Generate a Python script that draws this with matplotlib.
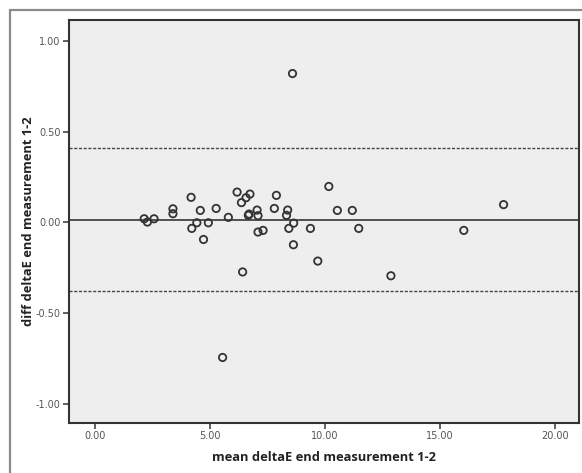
import matplotlib
matplotlib.use("Agg")
import matplotlib.pyplot as plt
from matplotlib.patches import Rectangle

# mean of the two measurements and their difference
mean_delta = [2.14, 2.28, 2.57, 3.39, 3.39, 4.18, 4.21, 4.43, 4.58, 4.72,
              4.93, 5.27, 5.55, 5.80, 6.18, 6.37, 6.42, 6.57, 6.67, 6.70,
              6.74, 7.05, 7.09, 7.09, 7.31, 7.80, 7.89, 8.33, 8.38, 8.43,
              8.59, 8.63, 8.64, 9.37, 9.69, 10.17, 10.54, 11.19, 11.47, 12.87,
              16.04, 17.77]
diff_delta = [0.020, 0.002, 0.020, 0.075, 0.048, 0.138, -0.033, -0.002, 0.066, -0.094,
              -0.002, 0.077, -0.744, 0.028, 0.167, 0.109, -0.273, 0.136, 0.039, 0.046,
              0.156, 0.068, 0.037, -0.053, -0.044, 0.077, 0.149, 0.039, 0.068, -0.033,
              0.820, -0.123, -0.004, -0.033, -0.213, 0.198, 0.066, 0.066, -0.033, -0.294,
              -0.044, 0.098]

mean_diff = 0.013
loa_upper = 0.41
loa_lower = -0.38

x_ticks = [0, 5, 10, 15, 20]
y_ticks = [-1.0, -0.5, 0.0, 0.5, 1.0]

W, H = 582, 473
fig = plt.figure(figsize=(W / 100, H / 100), dpi=100)
fig.patch.set_facecolor("white")

# outer frame
fig.patches.append(Rectangle((10 / W, -0.05), 1.0, (H - 10) / H + 0.05,
                             transform=fig.transFigure, fill=False,
                             edgecolor="#8a8a8a", linewidth=1.6))

ax = fig.add_axes([69 / W, (H - 423) / H, (579 - 69) / W, (423 - 20) / H])
ax.set_facecolor("#eeeeee")

ax.axhline(mean_diff, color="#444444", linewidth=1.3)
ax.axhline(loa_upper, color="#444444", linewidth=1.0, linestyle=(0, (2.2, 1.2)))
ax.axhline(loa_lower, color="#444444", linewidth=1.0, linestyle=(0, (2.2, 1.2)))

ax.scatter(mean_delta, diff_delta, s=28, facecolors="none",
           edgecolors="#333333", linewidths=1.3, zorder=3)

ax.set_xlim(-1.13, 21.05)
ax.set_ylim(-1.105, 1.115)
ax.set_xticks(x_ticks)
ax.set_yticks(y_ticks)
ax.set_xticklabels([f"{v:.2f}" for v in x_ticks])
ax.set_yticklabels([f"{v:.2f}" for v in y_ticks])

for s in ax.spines.values():
    s.set_color("#333333")
    s.set_linewidth(1.5)
ax.tick_params(direction="out", length=4, width=1.2, color="#444444",
               labelsize=7, labelcolor="#555555", pad=2)

ax.set_xlabel("mean deltaE end measurement 1-2", fontsize=9.3, fontweight="bold",
              family="Open Sans", color="#222222")
ax.set_ylabel("diff deltaE end measurement 1-2", fontsize=9.3, fontweight="bold",
              family="Open Sans", color="#222222")
ax.xaxis.set_label_coords(0.5, (423 - 451) / 403)
ax.yaxis.set_label_coords((35 - 69) / 510, 0.5)

fig.savefig("out.png", dpi=100)
